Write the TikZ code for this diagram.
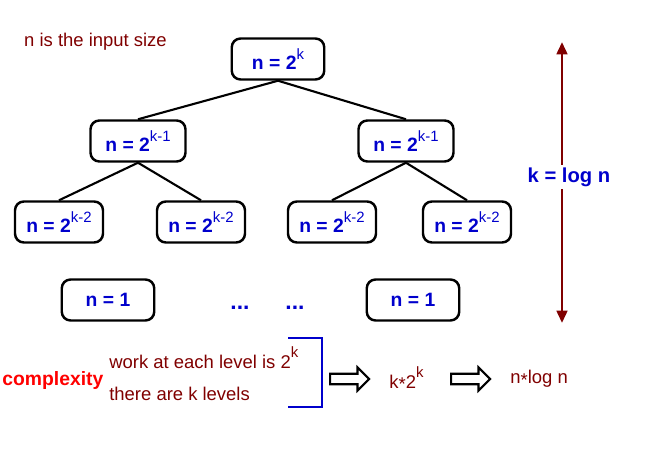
\documentclass[tikz,border=0pt]{standalone}
\usepackage{fontspec}
\setmainfont{Liberation Sans}
\usetikzlibrary{arrows.meta,shapes.arrows}

\definecolor{maroon}{RGB}{128,0,0}
\definecolor{nblue}{RGB}{0,0,204}
\newcommand{\pw}[1]{\raisebox{1.05ex}{\fontsize{8.5}{9}\selectfont\mdseries #1}}

\tikzset{
  sizebox/.style={draw, line width=1.4pt, rounded corners=5pt, minimum width=1.85cm,
    minimum height=0.82cm, text=nblue, font=\fontsize{11}{13}\selectfont\bfseries},
  branch/.style={line width=1.2pt},
  note/.style={text=maroon, font=\fontsize{10.5}{12}\selectfont},
  hollow/.style={single arrow, draw, line width=1.2pt, inner sep=2.4pt,
    single arrow head extend=3.6pt, minimum height=0.78cm}
}

\begin{document}
\begin{tikzpicture}[x=0.02cm,y=-0.02cm]
\useasboundingbox (0,0) rectangle (654,457);

\node[note, anchor=west] (input) at (18,42) {n is the input size};

% recursion tree
\node[sizebox] (root) at (278,59) {n = 2\pw{k}};
\node[sizebox, minimum width=1.9cm] (l) at (138,141) {n = 2\pw{k-1}};
\node[sizebox, minimum width=1.9cm] (r) at (406,141) {n = 2\pw{k-1}};
\node[sizebox, minimum width=1.76cm] (ll) at (59,222) {n = 2\pw{k-2}};
\node[sizebox, minimum width=1.76cm] (lr) at (201,222) {n = 2\pw{k-2}};
\node[sizebox, minimum width=1.76cm] (rl) at (332,222) {n = 2\pw{k-2}};
\node[sizebox, minimum width=1.76cm] (rr) at (467,222) {n = 2\pw{k-2}};
\node[sizebox] (lone) at (108,300) {n = 1};
\node[sizebox] (rone) at (413,300) {n = 1};
\node[text=nblue, font=\fontsize{13}{14}\selectfont\bfseries] (dotsa) at (240,308) {...};
\node[text=nblue, font=\fontsize{13}{14}\selectfont\bfseries] (dotsb) at (295,308) {...};

\foreach \p/\c in {root/l, root/r, l/ll, l/lr, r/rl, r/rr}
  \draw[branch] (\p.south) -- (\c.north);

% height of the tree
\coordinate (htop) at (562,42);
\coordinate (hbot) at (562,323);
\draw[maroon, line width=1.6pt, {Triangle[length=7pt,width=6pt]}-{Triangle[length=7pt,width=6pt]}] (htop) -- (hbot);
\node[fill=white, text=nblue, font=\fontsize{11.5}{13}\selectfont\bfseries, inner sep=1.5pt] (height) at (569,177) {k = log n};

% complexity
\node[text=red, font=\fontsize{11}{13}\selectfont\bfseries, anchor=base west, inner sep=0pt] (cplx) at (2,385) {complexity};
\node[note, anchor=base west, inner sep=0pt] (work) at (109,368) {work at each level is 2\pw{k}};
\node[note, anchor=base west, inner sep=0pt] (levels) at (109,400) {there are k levels};
\coordinate (btop) at (288,338);
\coordinate (bbot) at (288,407);
\draw[nblue, line width=1.6pt] (btop) -| (322,372) |- (bbot);
\node[hollow] (impa) at (347,379) {};
\node[note, anchor=west, inner sep=0pt] (total) at (389,379) {k\raisebox{-0.3ex}{*}2\pw{k}};
\node[hollow] (impb) at (468,379) {};
\node[note, anchor=west, inner sep=0pt] (result) at (510,379) {n\raisebox{-0.3ex}{*}log n};
\end{tikzpicture}
\end{document}
